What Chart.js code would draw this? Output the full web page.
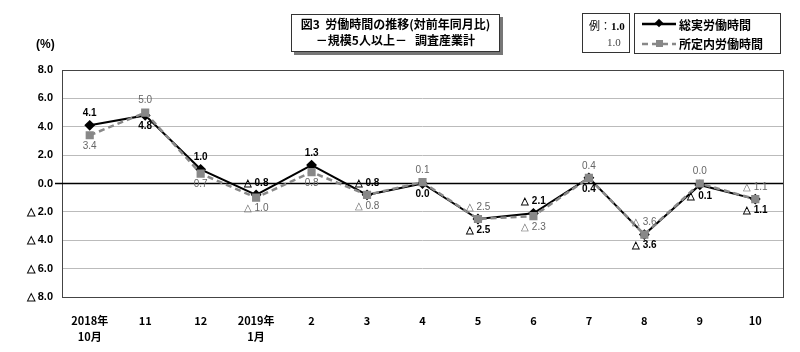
<!DOCTYPE html>
<html>
<head>
<meta charset="utf-8">
<script src="https://cdn.jsdelivr.net/npm/chart.js@4"></script>
<style>
  html, body { margin: 0; padding: 0; background: #fff; }
  #wrap { position: relative; width: 800px; height: 352px; font-family: "Noto Sans CJK JP", sans-serif; }
  canvas { position: absolute; left: 0; top: 0; }
  .box { position: absolute; border: 1px solid #333; background: #fff; }
  #title { left: 291px; top: 14px; width: 207px; height: 35px; box-shadow: 3px 3px 0 #777; text-align: center; font-size: 12px; font-weight: bold; line-height: 16px; padding-top: 1px; }
  #ex { left: 582px; top: 13px; width: 46px; height: 38px; font-family: "Liberation Serif", serif; font-size: 11px; }
  #leg { left: 634px; top: 13px; width: 145px; height: 39px; font-size: 12px; font-weight: bold; }
  #unit { position: absolute; left: 36px; top: 37px; font-size: 12px; font-weight: bold; font-family: "Liberation Sans", sans-serif; }
</style>
</head>
<body>
<div id="wrap">
  <canvas id="chart" width="800" height="352"></canvas>
  <div id="unit">(%)</div>
  <div class="box" id="title">図3&nbsp; 労働時間の推移(対前年同月比)<br>－規模5人以上－&nbsp;&nbsp; 調査産業計</div>
  <div class="box" id="ex">
    <div style="position:absolute;left:6px;top:3px;"><span style="font-family:'Noto Sans CJK JP';">例：</span><b>1.0</b></div>
    <div style="position:absolute;left:24px;top:22px;color:#444;">1.0</div>
  </div>
  <div class="box" id="leg">
    <svg width="40" height="40" style="position:absolute;left:5px;top:0;">
      <line x1="2" y1="10" x2="36" y2="10" stroke="#000" stroke-width="2.5"/>
      <rect x="16" y="6" width="6" height="6" fill="#000" transform="rotate(45 19 9)"/>
      <line x1="2" y1="30" x2="36" y2="30" stroke="#888" stroke-width="2.5" stroke-dasharray="6,4"/>
      <rect x="16" y="26" width="7" height="7" fill="#888"/>
    </svg>
    <div style="position:absolute;left:44px;top:2px;">総実労働時間</div>
    <div style="position:absolute;left:44px;top:21px;">所定内労働時間</div>
  </div>
</div>
<script>
// 労働時間の推移（対前年同月比）
const categories = [['2018年','10月'],'11','12',['2019年','1月'],'2','3','4','5','6','7','8','9','10'];
const totalHours = [4.1, 4.8, 1.0, -0.8, 1.3, -0.8, 0.0, -2.5, -2.1, 0.4, -3.6, -0.1, -1.1];
const scheduledHours = [3.4, 5.0, 0.7, -1.0, 0.8, -0.8, 0.1, -2.5, -2.3, 0.4, -3.6, 0.0, -1.1];
const yTicks = [8, 6, 4, 2, 0, -2, -4, -6, -8];
// ラベル位置（総実）: 所定内は反対側
const totalLabelPos = ['top','bottom','top','top','top','top','bottom','bottom','top','bottom','bottom','bottom','bottom'];

function fmt(v) {
  return v < 0 ? '△ ' + Math.abs(v).toFixed(1) : v.toFixed(1);
}

const labelPlugin = {
  id: 'labels',
  afterDatasetsDraw(chart) {
    const c = chart.ctx;
    c.save();
    c.textAlign = 'center';
    c.textBaseline = 'middle';
    chart.data.datasets.forEach((ds, di) => {
      const meta = chart.getDatasetMeta(di);
      const isTotal = ds.key === 'total';
      c.font = (isTotal ? 'bold ' : '') + '10px "Liberation Sans", sans-serif';
      c.fillStyle = isTotal ? '#000' : '#666';
      meta.data.forEach((pt, i) => {
        let pos = totalLabelPos[i];
        if (!isTotal) pos = pos === 'top' ? 'bottom' : 'top';
        const y = pos === 'top' ? pt.y - 12 : pt.y + 11;
        c.fillText(fmt(ds.data[i]), pt.x, y);
      });
    });
    c.restore();
  }
};

const framePlugin = {
  id: 'frame',
  beforeDatasetsDraw(chart) {
    const a = chart.chartArea, c = chart.ctx;
    const y0 = chart.scales.y.getPixelForValue(0);
    c.save();
    c.strokeStyle = '#444';
    c.lineWidth = 1;
    c.strokeRect(a.left + 0.5, a.top + 0.5, a.right - a.left, a.bottom - a.top);
    c.strokeStyle = '#000';
    c.lineWidth = 1.5;
    c.beginPath();
    c.moveTo(a.left - 7, y0);
    c.lineTo(a.right, y0);
    c.stroke();
    c.restore();
  }
};

new Chart(document.getElementById('chart'), {
  type: 'line',
  data: {
    labels: categories,
    datasets: [
      { key: 'sched', data: scheduledHours, borderColor: '#888', backgroundColor: '#888', borderWidth: 2.5,
        borderDash: [6, 4], pointStyle: 'rect', pointRadius: 4, pointHoverRadius: 4, order: 0, tension: 0 },
      { key: 'total', data: totalHours, borderColor: '#000', backgroundColor: '#000', borderWidth: 2,
        pointStyle: 'rectRot', pointRadius: 4, pointHoverRadius: 4, order: 1, tension: 0 }
    ]
  },
  options: {
    responsive: false,
    animation: false,
    layout: { padding: { top: 70, right: 17, left: 0, bottom: 0 } },
    plugins: { legend: { display: false }, tooltip: { enabled: false } },
    scales: {
      x: {
        offset: true,
        grid: { display: false, offset: true },
        border: { display: false },
        ticks: { color: '#000', padding: 8, maxRotation: 0, font: { family: '"Noto Sans CJK JP"', size: 11, weight: 'bold', lineHeight: 1.45 } },
        afterFit: s => { s.height = 55; }
      },
      y: {
        min: -8, max: 8,
        afterBuildTicks: s => { s.ticks = yTicks.map(v => ({ value: v })); },
        grid: { color: ctx => ctx.tick && ctx.tick.value === 0 ? 'transparent' : '#bbb', drawTicks: false },
        border: { display: false },
        ticks: { color: '#000', padding: 9, font: { family: '"Liberation Sans", sans-serif', size: 11, weight: 'bold' },
          callback: v => fmt(v) },
        afterFit: s => { s.width = 62; }
      }
    }
  },
  plugins: [framePlugin, labelPlugin]
});
</script>
</body>
</html>
